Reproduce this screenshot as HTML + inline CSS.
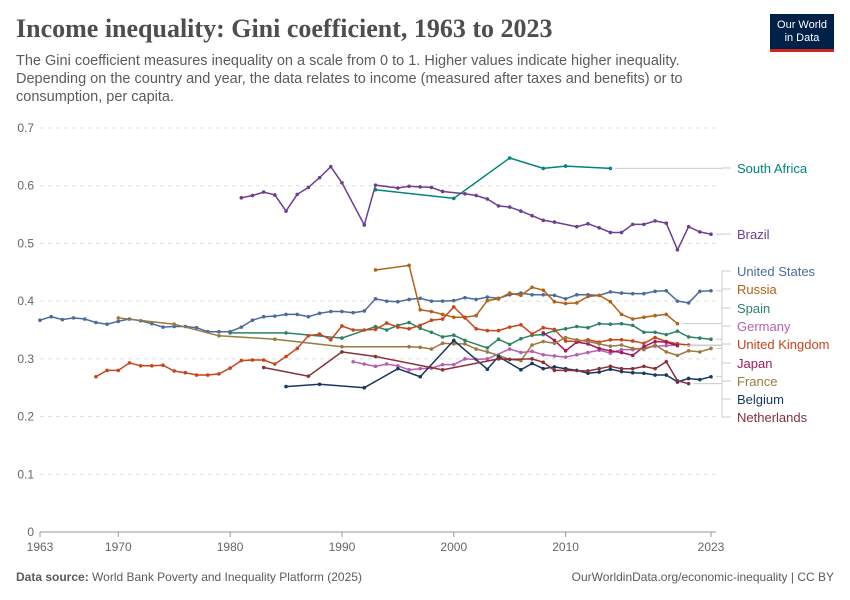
<!DOCTYPE html>
<html><head><meta charset="utf-8"><style>
body{margin:0;background:#fff;}
#wrap{position:relative;width:850px;height:600px;overflow:hidden;font-family:"Liberation Sans",sans-serif;}
.title{position:absolute;left:16px;top:14px;font-family:"Liberation Serif",serif;font-size:26px;font-weight:bold;color:#4e4e4e;}
.sub{position:absolute;left:16px;top:52px;width:700px;font-size:14.5px;line-height:18px;color:#5b5b5b;}
.logo{position:absolute;left:770px;top:14px;width:64px;height:38px;background:#002147;color:#fff;font-size:11px;line-height:13px;text-align:center;border-bottom:3px solid #ce261e;box-sizing:border-box;padding-top:5px;}
.foot{position:absolute;top:570px;font-size:12px;color:#5b5b5b;}
</style></head><body>
<div id="wrap">
<div class="title">Income inequality: Gini coefficient, 1963 to 2023</div>
<div class="sub">The Gini coefficient measures inequality on a scale from 0 to 1. Higher values indicate higher inequality. Depending on the country and year, the data relates to income (measured after taxes and benefits) or to consumption, per capita.</div>
<div class="logo">Our World<br>in Data</div>
<svg id="chart" width="850" height="600" style="position:absolute;left:0;top:0"></svg>
<div class="foot" style="left:16px"><b>Data source:</b> World Bank Poverty and Inequality Platform (2025)</div>
<div class="foot" style="right:16px">OurWorldinData.org/economic-inequality | CC BY</div>
</div>
<script>
const yTicks=[0,0.1,0.2,0.3,0.4,0.5,0.6,0.7];
const xTicks=[1963,1970,1980,1990,2000,2010,2023];
const countries=["South Africa","Brazil","United States","Russia","Spain","Germany","United Kingdom","Japan","France","Belgium","Netherlands"];
const colors=["#00847e","#6d3e91","#4c6a9c","#b16214","#2c8465","#b65fb1","#c8441a","#a2185c","#9a7a41","#18375f","#883039"];
const labelY=[168,234,271,289,308,326,344,363,381,399,417];
const saYears=[1993,2000,2005,2008,2010,2014];
const saVals=[.593,.578,.648,.630,.634,.630];
const brYears=[1981,1982,1983,1984,1985,1986,1987,1988,1989,1990,1992,1993,1995,1996,1997,1998,1999,2001,2002,2003,2004,2005,2006,2007,2008,2009,2011,2012,2013,2014,2015,2016,2017,2018,2019,2020,2021,2022,2023];
const brVals=[.579,.583,.589,.584,.556,.585,.597,.614,.633,.605,.532,.601,.596,.599,.598,.597,.590,.586,.583,.577,.565,.563,.556,.548,.540,.537,.529,.534,.527,.519,.519,.533,.533,.539,.535,.489,.529,.520,.516];
const usYears=[1963,1964,1965,1966,1967,1968,1969,1970,1971,1972,1973,1974,1975,1976,1977,1978,1979,1980,1981,1982,1983,1984,1985,1986,1987,1988,1989,1990,1991,1992,1993,1994,1995,1996,1997,1998,1999,2000,2001,2002,2003,2004,2005,2006,2007,2008,2009,2010,2011,2012,2013,2014,2015,2016,2017,2018,2019,2020,2021,2022,2023];
const usVals=[.367,.373,.368,.371,.369,.363,.360,.365,.369,.366,.361,.355,.356,.356,.354,.347,.347,.347,.355,.367,.373,.374,.377,.377,.373,.379,.382,.382,.380,.383,.404,.400,.399,.403,.405,.400,.400,.401,.406,.403,.407,.405,.411,.414,.411,.411,.410,.404,.411,.411,.410,.416,.414,.413,.413,.417,.418,.400,.397,.417,.418];
const ruYears=[1993,1996,1997,1998,1999,2000,2001,2002,2003,2004,2005,2006,2007,2008,2009,2010,2011,2012,2013,2014,2015,2016,2017,2018,2019,2020];
const ruVals=[.454,.462,.385,.382,.377,.372,.372,.375,.401,.404,.414,.410,.424,.419,.399,.396,.397,.408,.410,.399,.377,.369,.372,.375,.377,.361];
const esYears=[1980,1985,1990,1993,1994,1995,1996,1997,1998,1999,2000,2001,2003,2004,2005,2006,2007,2008,2009,2010,2011,2012,2013,2014,2015,2016,2017,2018,2019,2020,2021,2022,2023];
const esVals=[.345,.345,.336,.356,.350,.358,.363,.353,.346,.338,.341,.332,.319,.334,.325,.335,.341,.342,.349,.352,.356,.354,.361,.360,.361,.358,.346,.346,.342,.348,.338,.336,.334];
const deYears=[1991,1992,1993,1994,1995,1996,1997,1998,1999,2000,2001,2002,2003,2005,2006,2007,2008,2009,2010,2011,2012,2013,2014,2015,2016,2017,2018,2019,2020];
const deVals=[.295,.291,.287,.291,.288,.281,.283,.284,.290,.290,.300,.299,.300,.317,.311,.313,.307,.305,.303,.307,.311,.315,.310,.316,.316,.319,.322,.323,.324];
const ukYears=[1968,1969,1970,1971,1972,1973,1974,1975,1976,1977,1978,1979,1980,1981,1982,1983,1984,1985,1986,1987,1988,1989,1990,1991,1992,1993,1994,1995,1996,1997,1998,1999,2000,2001,2002,2003,2004,2005,2006,2007,2008,2009,2010,2011,2012,2013,2014,2015,2016,2017,2018,2019,2020,2021];
const ukVals=[.269,.280,.280,.293,.288,.288,.289,.279,.276,.272,.272,.274,.284,.297,.298,.298,.291,.304,.318,.340,.343,.333,.357,.350,.350,.351,.362,.355,.352,.358,.367,.369,.390,.371,.352,.349,.349,.355,.359,.343,.354,.351,.331,.330,.333,.329,.333,.333,.331,.327,.337,.330,.326,.324];
const jpYears=[2008,2009,2010,2011,2012,2013,2014,2015,2016,2017,2018,2019,2020];
const jpVals=[.345,.332,.314,.329,.326,.318,.314,.311,.306,.321,.330,.329,.323];
const frYears=[1970,1975,1979,1984,1990,1996,1997,1998,1999,2000,2001,2002,2003,2004,2005,2006,2007,2008,2009,2010,2011,2012,2013,2014,2015,2016,2017,2018,2019,2020,2021,2022,2023];
const frVals=[.371,.360,.340,.334,.321,.321,.320,.317,.327,.326,.326,.317,.312,.306,.299,.297,.324,.330,.327,.337,.333,.330,.326,.322,.324,.318,.316,.324,.312,.306,.314,.312,.318];
const beYears=[1985,1988,1992,1995,1997,2000,2003,2004,2006,2007,2008,2009,2010,2011,2012,2013,2014,2015,2016,2017,2018,2019,2020,2021,2022,2023];
const beVals=[.252,.256,.250,.283,.269,.332,.282,.304,.281,.292,.283,.286,.283,.280,.275,.277,.282,.278,.276,.275,.272,.272,.260,.266,.264,.269];
const nlYears=[1983,1987,1990,1993,1999,2004,2005,2007,2008,2009,2010,2012,2013,2014,2015,2016,2017,2018,2019,2020,2021];
const nlVals=[.285,.270,.312,.304,.281,.300,.299,.300,.294,.280,.280,.279,.283,.287,.283,.283,.287,.283,.295,.262,.257];
const allYears=[saYears,brYears,usYears,ruYears,esYears,deYears,ukYears,jpYears,frYears,beYears,nlYears];
const allVals=[saVals,brVals,usVals,ruVals,esVals,deVals,ukVals,jpVals,frVals,beVals,nlVals];

const svg=document.getElementById('chart');
const NS='http://www.w3.org/2000/svg';
function X(yr){return 40+(yr-1963)*(711-40)/60;}
function Y(v){return 532-v*(532-128)/0.7;}
function mk(tag,attrs,parent){const e=document.createElementNS(NS,tag);for(const k in attrs)e.setAttribute(k,attrs[k]);(parent||svg).appendChild(e);return e;}

yTicks.forEach(t=>{
  const l=mk('line',{x1:40,x2:716,y1:Y(t),y2:Y(t),stroke:t===0?'#999':'#ddd','stroke-dasharray':t===0?'':'4,4'});
  
  
  const tx=mk('text',{x:34,y:Y(t)+4,'text-anchor':'end','font-size':12,fill:'#666','font-family':'Liberation Sans, sans-serif'});
  tx.textContent=t===0?'0':String(t);
  
  
});
xTicks.forEach(t=>{
  const l=mk('line',{x1:X(t),x2:X(t),y1:532,y2:537,stroke:'#999'});
  
  
  const tx=mk('text',{x:X(t),y:551,'text-anchor':'middle','font-size':12,fill:'#666','font-family':'Liberation Sans, sans-serif'});
  tx.textContent=t;
  
  
});
countries.forEach((c,i)=>{
  const ys=allYears[i],vs=allVals[i];
  const g=mk('g',{});
  
  
  const pts=ys.map((y,j)=>X(y).toFixed(1)+','+Y(vs[j]).toFixed(1)).join(' ');
  mk('polyline',{points:pts,fill:'none',stroke:colors[i],'stroke-width':1.5},g);
  ys.forEach((y,j)=>{
    const p=mk('circle',{cx:X(y),cy:Y(vs[j]),r:1.8,fill:colors[i]},g);
    
    
  });
  const lastY=Y(vs[vs.length-1]);
  const ly=labelY[i];
  const conn=mk('polyline',{points:`${X(ys[ys.length-1])+5},${lastY} 722,${lastY} 722,${ly} 731,${ly}`,fill:'none',stroke:'#ccc','stroke-width':1});
  
  
  const tx=mk('text',{x:737,y:labelY[i]+5,'font-size':13,fill:colors[i],'font-family':'Liberation Sans, sans-serif'});
  tx.textContent=c;
  
  
});
</script>
</body></html>
